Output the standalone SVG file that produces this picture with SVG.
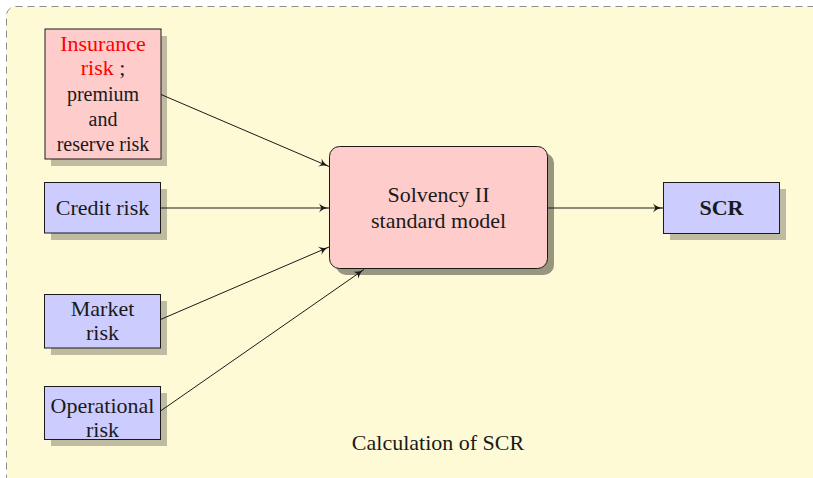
<svg xmlns="http://www.w3.org/2000/svg" width="813" height="478" viewBox="0 0 813 478">
  <style>
    text { font-family: "Liberation Serif", "Times New Roman", serif; fill: #1a1a1a; text-anchor: middle; }
    .t { font-size: 22px; }
    .s { font-size: 20px; }
    .red { fill: #ff0000; }
    .box { stroke: #1a1a1a; stroke-width: 1; }
    .blue { fill: #ccccff; }
    .pink { fill: #ffcccc; }
    .shade { fill: #000000; opacity: 0.25; }
    .shade2 { fill: #000000; opacity: 0.4; }
    .edge { stroke: #1a1a1a; stroke-width: 1; fill: none; marker-end: url(#arrow); }
  </style>
  <defs>
    <marker id="arrow" viewBox="0 0 10 10" refX="9.5" refY="5" markerWidth="11" markerHeight="11" markerUnits="userSpaceOnUse" orient="auto">
      <path d="M0.5,1 Q4,4.5 9.5,5 Q4,5.5 0.5,9 L2.5,5 Z" fill="#1a1a1a"/>
    </marker>
  </defs>

  <!-- canvas frame -->
  <rect x="6.5" y="6.5" width="818" height="480" rx="9" fill="#fffad6" stroke="#8c8c8c" stroke-width="1" stroke-dasharray="7 5"/>

  <g id="insurance">
    <rect class="shade" x="51" y="36" width="116" height="130"/>
    <rect class="box pink" x="45" y="29" width="116" height="130"/>
    <text class="t red" x="103" y="51">Insurance</text>
    <text class="t" x="103" y="75"><tspan class="red">risk</tspan> ;</text>
    <text class="s" x="103" y="101">premium</text>
    <text class="s" x="103" y="126">and</text>
    <text class="s" x="103" y="151">reserve risk</text>
  </g>

  <g id="credit">
    <rect class="shade" x="51" y="189" width="116" height="51"/>
    <rect class="box blue" x="44.5" y="182.5" width="116" height="50.5"/>
    <text class="t" x="102.5" y="215">Credit risk</text>
  </g>

  <g id="market">
    <rect class="shade" x="51" y="301" width="116" height="54"/>
    <rect class="box blue" x="44.5" y="294.5" width="116" height="53.5"/>
    <text class="t" x="102.5" y="316">Market</text>
    <text class="t" x="102.5" y="340">risk</text>
  </g>

  <g id="operational">
    <rect class="shade" x="51" y="393" width="116" height="53"/>
    <rect class="box blue" x="44.5" y="386.5" width="116" height="53"/>
    <text class="t" x="102.5" y="413">Operational</text>
    <text class="t" x="102.5" y="437">risk</text>
  </g>

  <g id="solvency">
    <rect class="shade2" x="336" y="153" width="218" height="122" rx="10"/>
    <rect class="box pink" x="329.5" y="146.5" width="218" height="122" rx="10"/>
    <text class="t" x="438.5" y="202">Solvency II</text>
    <text class="t" x="438.5" y="228">standard model</text>
  </g>

  <g id="scr">
    <rect class="shade" x="670" y="189" width="116" height="51"/>
    <rect class="box blue" x="663.5" y="182.5" width="116" height="51"/>
    <text class="t" x="721.5" y="215" style="font-weight:bold">SCR</text>
  </g>

  <g id="caption">
    <text class="t" x="438" y="450">Calculation of SCR</text>
  </g>

  <g id="connectors">
    <line class="edge" x1="161" y1="94.5" x2="329" y2="166.5"/>
    <line class="edge" x1="160.5" y1="208" x2="329" y2="208"/>
    <line class="edge" x1="160.5" y1="319.5" x2="329" y2="247"/>
    <line class="edge" x1="160.5" y1="411" x2="364" y2="269.5"/>
    <line class="edge" x1="547.5" y1="208" x2="663" y2="208"/>
  </g>
</svg>
